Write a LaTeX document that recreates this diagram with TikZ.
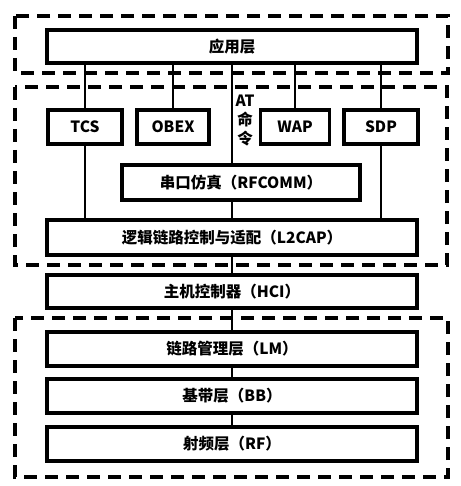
\documentclass[tikz,border=0pt]{standalone}
\usepackage{fontspec}
\setmainfont{Noto Sans CJK SC}
\usepackage{tikz}
\usetikzlibrary{calc}

\begin{document}
\begin{tikzpicture}[x=1pt, y=-1pt,
    layer/.style={rectangle, draw, line width=3.3pt, inner sep=0pt, font=\fontsize{15.5}{18}\selectfont\bfseries},
    group/.style={draw, line width=3.3pt, dash pattern=on 13pt off 8pt},
    link/.style={draw, line width=2.8pt}]
    \useasboundingbox (0,0) rectangle (460,486);
    % Dashed groups
    \path [group] (15,16) rectangle (448,73);
    \path [group] (15,87) rectangle (447,265);
    \path [group] (15,318) rectangle (448,477);
    % Place nodes
    \node [layer, minimum width=370pt, minimum height=33pt] (APP) at (232,46.5) {应用层};
    \node [layer, minimum width=74pt, minimum height=34pt] (TCS) at (85,127) {TCS};
    \node [layer, minimum width=72pt, minimum height=34pt] (OBEX) at (173,127) {OBEX};
    \node [layer, minimum width=69pt, minimum height=34pt] (WAP) at (295,127) {WAP};
    \node [layer, minimum width=74pt, minimum height=34pt] (SDP) at (381,127) {SDP};
    \node [align=center, inner sep=0pt, font=\fontsize{15.5}{19}\selectfont\bfseries] (AT) at (245,121) {AT\\命\\令};
    \node [layer, minimum width=238pt, minimum height=35pt] (RFCOMM) at (241,182.5) {串口仿真（RFCOMM）};
    \node [layer, minimum width=370pt, minimum height=35pt] (L2CAP) at (232,237.5) {逻辑链路控制与适配（L2CAP）};
    \node [layer, minimum width=370pt, minimum height=33pt] (HCI) at (232,291.5) {主机控制器（HCI）};
    \node [layer, minimum width=370pt, minimum height=34pt] (LM) at (232,349) {链路管理层（LM）};
    \node [layer, minimum width=370pt, minimum height=34pt] (BB) at (232,396) {基带层（BB）};
    \node [layer, minimum width=370pt, minimum height=34pt] (RF) at (232,444) {射频层（RF）};
    % Draw lines
    \path [link] (TCS.north) -- (TCS.north |- APP.south);
    \path [link] (OBEX.north) -- (OBEX.north |- APP.south);
    \path [link] (WAP.north) -- (WAP.north |- APP.south);
    \path [link] (SDP.north) -- (SDP.north |- APP.south);
    \path [link] (APP.south) -- (APP.south |- RFCOMM.north);
    \path [link] (TCS.south) -- (TCS.south |- L2CAP.north);
    \path [link] (SDP.south) -- (SDP.south |- L2CAP.north);
    \path [link] (L2CAP.north) -- (L2CAP.north |- RFCOMM.south);
    \path [link] (L2CAP.south) -- (HCI.north);
    \path [link] (HCI.south) -- (LM.north);
    \path [link] (LM.south) -- (BB.north);
    \path [link] (BB.south) -- (RF.north);
\end{tikzpicture}
\end{document}
